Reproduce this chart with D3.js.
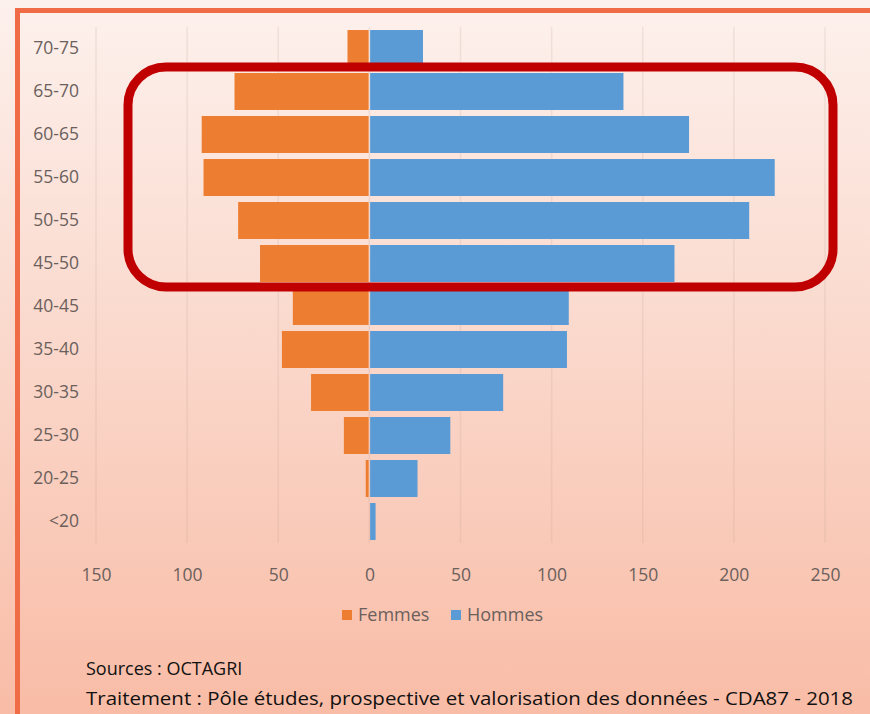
<!DOCTYPE html>
<html>
<head>
<meta charset="utf-8">
<title>Pyramide des âges</title>
<script src="https://cdn.jsdelivr.net/npm/d3@7"></script>
<style>
  body{margin:0;}
  svg{display:block;}
  text{font-family:"Open Sans", sans-serif;}
</style>
</head>
<body>
<div id="container"></div>
<script>
  // tranches d'age, du haut vers le bas
  var ages = ["70-75","65-70","60-65","55-60","50-55","45-50","40-45","35-40","30-35","25-30","20-25","<20"];
  var femmes = [12, 74, 92, 91, 72, 60, 42, 48, 32, 14, 2, 0];
  var hommes = [29, 139, 175, 222, 208, 167, 109, 108, 73, 44, 26, 3];
  var xTicks = [-150, -100, -50, 0, 50, 100, 150, 200, 250];
  var series = ["Femmes", "Hommes"];
  var highlight = ["65-70", "45-50"];
  var sources = ["Sources : OCTAGRI",
                 "Traitement : Pôle études, prospective et valorisation des données - CDA87 - 2018"];

  var colors = {"Femmes":"#ed7d31", "Hommes":"#5b9bd5"};
  var width = 870, height = 714;

  var svg = d3.select("#container").append("svg")
      .attr("width", width)
      .attr("height", height);

  var grad = svg.append("defs").append("linearGradient")
      .attr("id","bg").attr("x1",0).attr("y1",0).attr("x2",0).attr("y2",1);
  grad.append("stop").attr("offset","0%").attr("stop-color","#fdf1ed");
  grad.append("stop").attr("offset","50%").attr("stop-color","#fad7ca");
  grad.append("stop").attr("offset","100%").attr("stop-color","#f9bca6");

  svg.append("rect").attr("width",width).attr("height",height).attr("fill","url(#bg)");

  // cadre orange (haut + gauche)
  svg.append("path")
      .attr("d","M17.5," + height + "V10.5H" + width)
      .attr("fill","none")
      .attr("stroke","#ef6c47")
      .attr("stroke-width",5);

  var x = d3.scaleLinear().domain([-150, 250]).range([96, 825]);
  var y = d3.scaleBand().domain(ages).range([27, 543])
      .paddingInner(0.14).paddingOuter(0.07);

  // grille verticale
  svg.append("g").selectAll("line")
    .data(xTicks)
    .enter().append("line")
      .attr("x1", d => x(d)).attr("x2", d => x(d))
      .attr("y1", 27).attr("y2", 543)
      .attr("stroke","#b89a90")
      .attr("stroke-opacity",0.18)
      .attr("stroke-width",1.5);

  var rows = ages.map(function(a, i){ return {age:a, f:femmes[i], h:hommes[i]}; });

  svg.append("g").selectAll("rect")
    .data(rows)
    .enter().append("rect")
      .attr("x", d => x(-d.f))
      .attr("y", d => y(d.age))
      .attr("width", d => Math.max(0, x(0) - x(-d.f) - 0.75))
      .attr("height", y.bandwidth())
      .attr("fill", colors["Femmes"]);

  svg.append("g").selectAll("rect")
    .data(rows)
    .enter().append("rect")
      .attr("x", x(0) + 0.75)
      .attr("y", d => y(d.age))
      .attr("width", d => x(d.h) - x(0))
      .attr("height", y.bandwidth())
      .attr("fill", colors["Hommes"]);

  // axes
  var xAxis = d3.axisBottom(x).tickValues(xTicks).tickSize(0).tickPadding(26)
      .tickFormat(d => Math.abs(d));
  var gx = svg.append("g").attr("transform","translate(0,543)").call(xAxis);

  var yAxis = d3.axisLeft(y).tickSize(0).tickPadding(17);
  var gy = svg.append("g").attr("transform","translate(96,0)").call(yAxis);

  d3.selectAll(".domain").remove();
  d3.selectAll(".tick text")
      .attr("fill","#6b605c")
      .style("font-family","'Open Sans', sans-serif")
      .style("font-size","17.5px");

  // encadré rouge
  var boxTop = y(highlight[0]) - 6,
      boxBot = y(highlight[1]) + y.bandwidth() + 5;
  svg.append("rect")
      .attr("x", x.range()[0] + 32)
      .attr("y", boxTop)
      .attr("width", x.range()[1] + 8 - x.range()[0] - 32)
      .attr("height", boxBot - boxTop)
      .attr("rx", 38).attr("ry", 38)
      .attr("fill","none")
      .attr("stroke","#c00000")
      .attr("stroke-width",9);

  // legende
  var legX = [342, 451];
  var leg = svg.append("g").selectAll("g")
    .data(series)
    .enter().append("g")
      .attr("transform", (d, i) => "translate(" + legX[i] + ",610)");
  leg.append("rect").attr("width",10).attr("height",10).attr("fill", d => colors[d]);
  leg.append("text")
      .attr("x",16).attr("y",11)
      .text(d => d)
      .attr("fill","#6b605c")
      .style("font-size","18px");

  // sources
  svg.append("g").selectAll("text")
    .data(sources)
    .enter().append("text")
      .attr("x",86)
      .attr("y", (d, i) => 675 + i * 30)
      .attr("fill","#111")
      .style("font-size","18px")
      .text(d => d)
      .each(function(d, i){
        if(i == 1) d3.select(this).attr("textLength",767).attr("lengthAdjust","spacingAndGlyphs");
      });
</script>
</body>
</html>
